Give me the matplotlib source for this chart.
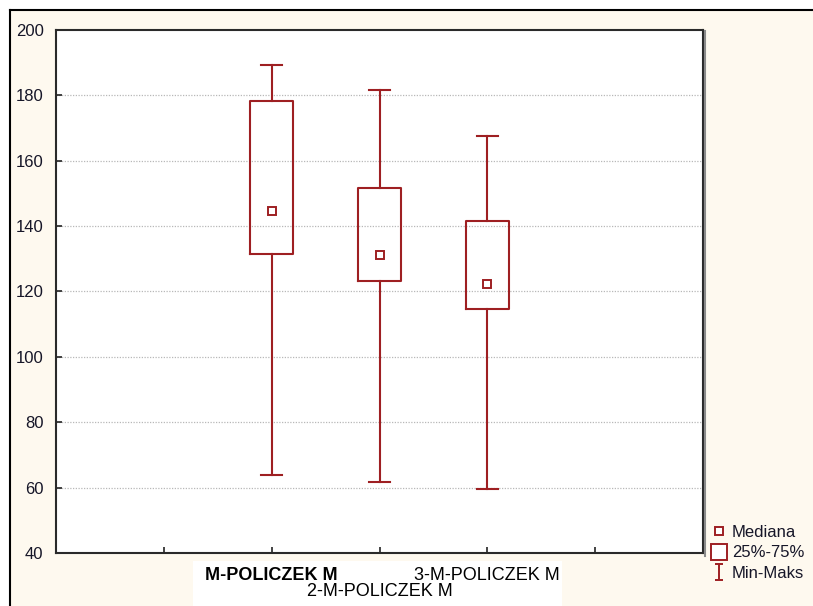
import matplotlib.pyplot as plt
from matplotlib.lines import Line2D
from matplotlib.patches import Rectangle
from matplotlib.path import Path

# --- Data (min, q1, median, q3, max per group) ---
groups = ['M-POLICZEK M', '2-M-POLICZEK M', '3-M-POLICZEK M']
positions = [2, 3, 4]
mins = [63.9, 61.8, 59.5]
q1s = [131.4, 123.3, 114.6]
medians = [144.7, 131.3, 122.3]
q3s = [178.3, 151.6, 141.7]
maxs = [189.2, 181.6, 167.7]

y_ticks = [40, 60, 80, 100, 120, 140, 160, 180, 200]

RED = '#9e1f22'
BG = '#fef9ef'
TXT = '#161628'
W, H = 813, 606

plt.rcParams['font.family'] = ['Liberation Sans', 'DejaVu Sans']

fig = plt.figure(figsize=(W / 100, H / 100), dpi=100, facecolor='white')

# cream panel with a border on top and left
fig.patches.append(Rectangle((10 / W, 0), 1, 1 - 10 / H, transform=fig.transFigure,
                             facecolor=BG, edgecolor='none', zorder=-10))
fig.add_artist(Line2D([10 / W, 1], [1 - 10 / H] * 2, transform=fig.transFigure,
                      color='black', lw=1.5))
fig.add_artist(Line2D([10 / W] * 2, [0, 1 - 10 / H], transform=fig.transFigure,
                      color='black', lw=1.5))
# white strip behind the category names
fig.patches.append(Rectangle((193 / W, 0), (562 - 193) / W, (606 - 561) / H,
                             transform=fig.transFigure, facecolor='white',
                             edgecolor='none', zorder=-5))

ax = fig.add_axes([56 / W, 1 - 553 / H, (703 - 56) / W, (553 - 30) / H])
ax.set_facecolor('white')

stats = [dict(whislo=lo, q1=a, med=m, q3=b, whishi=hi, fliers=[])
         for lo, a, m, b, hi in zip(mins, q1s, medians, q3s, maxs)]
ax.bxp(stats, positions=positions, widths=0.4, capwidths=0.19, showfliers=False,
       boxprops=dict(color=RED, lw=1.5),
       whiskerprops=dict(color=RED, lw=1.5),
       capprops=dict(color=RED, lw=1.5),
       medianprops=dict(lw=0), manage_ticks=False, zorder=3)
ax.plot(positions, medians, 's', ms=6, mfc='white', mec=RED, mew=1.4, zorder=4)

ax.set_xlim(0, 6)
ax.set_ylim(40, 200)
ax.set_yticks(y_ticks)
ax.set_yticklabels([str(v) for v in y_ticks], fontsize=12, color=TXT)
for v in y_ticks[1:-1]:
    ax.axhline(v, color='#b8b8b8', lw=0.9, ls=(0, (1, 1.2)), zorder=1)

# first and third names sit on the tick row, the middle one on a second row
ax.set_xticks([1, 2, 3, 4, 5])
ax.set_xticklabels(['', groups[0], '', groups[2], ''], fontsize=13, color='black')
ax.get_xticklabels()[1].set_fontweight('bold')
ax.text(positions[1], -(591 - 553) / (553 - 30), groups[1], fontsize=13,
        ha='center', va='center', transform=ax.get_xaxis_transform())

ax.tick_params(axis='both', direction='in', length=4, width=1.2, color='#222222')
ax.tick_params(axis='x', pad=10)
ax.tick_params(axis='y', pad=9)
for s in ax.spines.values():
    s.set_color('#2a2a2a')
    s.set_linewidth(1.5)

# grey shadow along the right edge of the plot frame
fig.add_artist(Line2D([705 / W] * 2, [1 - 556 / H, 1 - 31 / H], transform=fig.transFigure,
                      color='#8a8a8a', lw=1.5))

# legend symbols
whisker_path = Path([(-0.45, 1), (0.45, 1), (0, 1), (0, -1), (-0.45, -1), (0.45, -1)],
                    [Path.MOVETO, Path.LINETO, Path.MOVETO, Path.LINETO,
                     Path.MOVETO, Path.LINETO])
handles = [
    Line2D([], [], ls='none', marker='s', ms=5.5, mfc='white', mec=RED, mew=1.4),
    Line2D([], [], ls='none', marker='s', ms=11, mfc='white', mec=RED, mew=1.4),
    Line2D([], [], ls='none', marker=whisker_path, ms=11.5, mec=RED, mew=1.4),
]
fig.legend(handles, ['Mediana', '25%-75%', 'Min-Maks'], loc='upper left',
           bbox_to_anchor=(711 / W, 1 - 525 / H), frameon=False, fontsize=12,
           handlelength=0.9, handletextpad=0.35, labelspacing=0.32,
           borderpad=0, borderaxespad=0, labelcolor=TXT)

fig.savefig('out.png', dpi=100, facecolor=fig.get_facecolor())
